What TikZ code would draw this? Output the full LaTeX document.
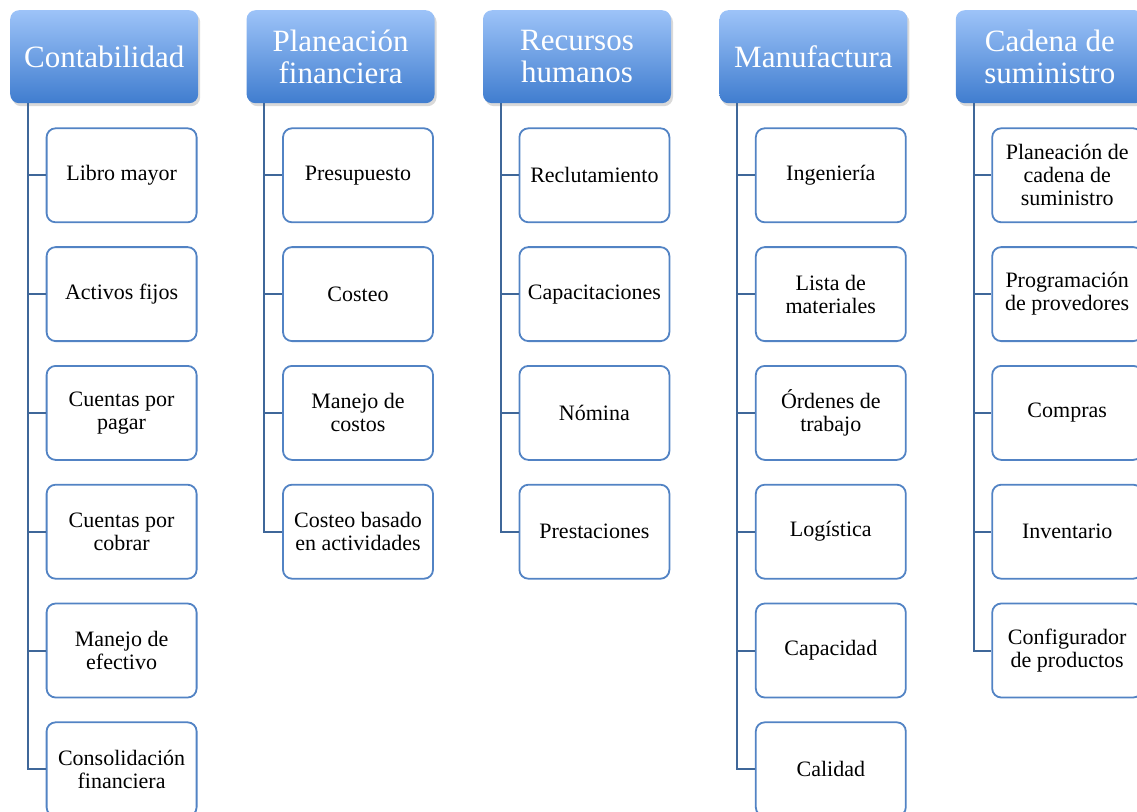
\documentclass[tikz,border=0pt]{standalone}
\usepackage{fontspec}
\setmainfont{Liberation Serif}
\usetikzlibrary{positioning, shadows}
\definecolor{HeadTop}{HTML}{9DC3F8}
\definecolor{HeadBot}{HTML}{407DCF}
\definecolor{BoxLine}{HTML}{5283C4}
\definecolor{ConnLine}{HTML}{3F6799}

\begin{document}
\begin{tikzpicture}[
            x=1pt, y=1pt,
            node distance=23pt,
            head/.style={rounded corners=9pt, top color=HeadTop, bottom color=HeadBot, text=white, minimum width=188pt, minimum height=93pt, align=center, font=\fontsize{31}{32}\selectfont, drop shadow={opacity=0.3, shadow xshift=2pt, shadow yshift=-3pt}},
            item/.style={draw=BoxLine, line width=1.8pt, rounded corners=9pt, fill=white, minimum width=150pt, minimum height=94pt, align=center, font=\fontsize{22}{23}\selectfont},
            conn/.style={draw=ConnLine, line width=2pt}
        ]
            \useasboundingbox (0,0) rectangle (1137,-811);

            % headers
            \node[head, anchor=north west] (contab) at (10,-10) {Contabilidad};
            \node[head, right=48pt of contab] (planfin) {Planeación\\financiera};
            \node[head, right=48pt of planfin] (rrhh) {Recursos\\humanos};
            \node[head, right=48pt of rrhh] (manuf) {Manufactura};
            \node[head, right=48pt of manuf] (cadena) {Cadena de\\suministro};

            % Contabilidad
            \node[item, below=24pt of contab.south east, anchor=north east, xshift=-0.9pt] (contab1) {Libro mayor};
            \node[item, below=of contab1] (contab2) {Activos fijos};
            \node[item, below=of contab2] (contab3) {Cuentas por\\pagar};
            \node[item, below=of contab3] (contab4) {Cuentas por\\cobrar};
            \node[item, below=of contab4] (contab5) {Manejo de\\efectivo};
            \node[item, below=of contab5] (contab6) {Consolidación\\financiera};

            % Planeacion financiera
            \node[item, below=24pt of planfin.south east, anchor=north east, xshift=-0.9pt] (planfin1) {Presupuesto};
            \node[item, below=of planfin1] (planfin2) {Costeo};
            \node[item, below=of planfin2] (planfin3) {Manejo de\\costos};
            \node[item, below=of planfin3] (planfin4) {Costeo basado\\en actividades};

            % Recursos humanos
            \node[item, below=24pt of rrhh.south east, anchor=north east, xshift=-0.9pt] (rrhh1) {Reclutamiento};
            \node[item, below=of rrhh1] (rrhh2) {Capacitaciones};
            \node[item, below=of rrhh2] (rrhh3) {Nómina};
            \node[item, below=of rrhh3] (rrhh4) {Prestaciones};

            % Manufactura
            \node[item, below=24pt of manuf.south east, anchor=north east, xshift=-0.9pt] (manuf1) {Ingeniería};
            \node[item, below=of manuf1] (manuf2) {Lista de\\materiales};
            \node[item, below=of manuf2] (manuf3) {Órdenes de\\trabajo};
            \node[item, below=of manuf3] (manuf4) {Logística};
            \node[item, below=of manuf4] (manuf5) {Capacidad};
            \node[item, below=of manuf5] (manuf6) {Calidad};

            % Cadena de suministro
            \node[item, below=24pt of cadena.south east, anchor=north east, xshift=-0.9pt] (cadena1) {Planeación de\\cadena de\\suministro};
            \node[item, below=of cadena1] (cadena2) {Programación\\de provedores};
            \node[item, below=of cadena2] (cadena3) {Compras};
            \node[item, below=of cadena3] (cadena4) {Inventario};
            \node[item, below=of cadena4] (cadena5) {Configurador\\de productos};

            % connectors
            \foreach \i in {1,...,6} \draw[conn] ([xshift=18pt]contab.south west) |- (contab\i.west);
            \foreach \i in {1,...,4} \draw[conn] ([xshift=18pt]planfin.south west) |- (planfin\i.west);
            \foreach \i in {1,...,4} \draw[conn] ([xshift=18pt]rrhh.south west) |- (rrhh\i.west);
            \foreach \i in {1,...,6} \draw[conn] ([xshift=18pt]manuf.south west) |- (manuf\i.west);
            \foreach \i in {1,...,5} \draw[conn] ([xshift=18pt]cadena.south west) |- (cadena\i.west);

        \end{tikzpicture}
\end{document}
